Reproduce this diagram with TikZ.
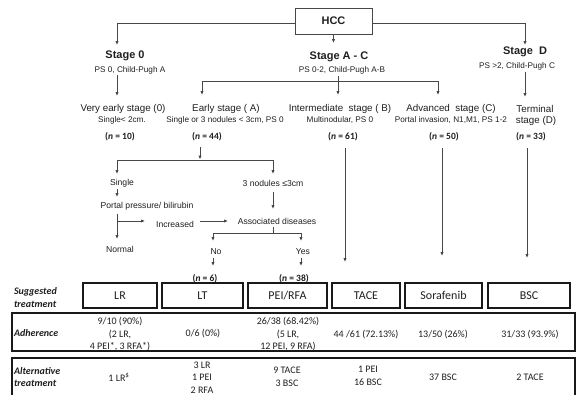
\documentclass[tikz,border=0pt]{standalone}
\usepackage{fontspec}
\setmainfont{Liberation Sans}
\newfontfamily\tabfont{Carlito}
\usetikzlibrary{arrows.meta}
\begin{document}
\begin{tikzpicture}[x=1pt,y=-1pt,
  every node/.style={inner sep=0pt, outer sep=0pt, text=black!88},
  conn/.style={draw=black!72, line width=0.8pt},
  arr/.style={conn, -{Latex[length=4pt,width=3.4pt]}},
  stagehd/.style={font=\fontsize{11}{12}\selectfont\bfseries},
  sub/.style={font=\fontsize{8.2}{9}\selectfont},
  lvl/.style={font=\fontsize{9.8}{11}\selectfont},
  flow/.style={font=\fontsize{8.6}{10}\selectfont},
  ncount/.style={font=\tabfont\fontsize{9.5}{10}\selectfont\bfseries},
  tbox/.style={draw=black!90, line width=1.1pt},
  thead/.style={tbox, font=\tabfont\fontsize{12}{14}\selectfont, minimum height=25pt},
  tcell/.style={font=\tabfont\fontsize{10}{12.5}\selectfont, align=center},
  tlabel/.style={font=\tabfont\fontsize{10}{12.5}\selectfont\bfseries\itshape, align=left, anchor=west},
]
\useasboundingbox (0,0) rectangle (586,394);
\clip (0,0) rectangle (586,394);

% ---------- top ----------
\node[draw=black!72, line width=0.8pt, minimum width=77pt, minimum height=26pt,
      font=\fontsize{11}{12}\selectfont\bfseries] (hcc) at (333.5,21) {HCC};
\coordinate (s0in) at (117,45);
\coordinate (sDin) at (525,45);
\coordinate (sACin) at (333.5,43);
\draw[arr] ([yshift=-2pt]hcc.west) -| (s0in);
\draw[arr] ([yshift=-2pt]hcc.east) -| (sDin);
\draw[arr] (hcc.south) -- (sACin);

\node[stagehd] (stage0) at (125,56) {Stage 0};
\node[sub] (stage0sub) at (130,70) {PS 0, Child-Pugh A};
\node[stagehd] (stageAC) at (339,57) {Stage A - C};
\node[sub] (stageACsub) at (342,70) {PS 0-2, Child-Pugh A-B};
\node[stagehd] (stageD) at (525,52) {Stage\ \ D};
\node[sub] (stageDsub) at (517,66) {PS >2, Child-Pugh C};

% stage arrows
\coordinate (s0a) at (117,75);  \coordinate (s0b) at (117,96);
\draw[arr] (s0a) -- (s0b);
\coordinate (acA) at (338,76);  \coordinate (acJ) at (338,81);
\coordinate (acL) at (202,81);  \coordinate (acR) at (438,81);
\coordinate (acLb) at (202,95); \coordinate (acMb) at (338,95); \coordinate (acRb) at (438,95);
\draw[conn] (acA) -- (acJ);
\draw[conn] (acL) -- (acR);
\draw[arr] (acL) -- (acLb);
\draw[arr] (acJ) -- (acMb);
\draw[arr] (acR) -- (acRb);
\coordinate (sDa) at (525,72);  \coordinate (sDb) at (525,97);
\draw[arr] (sDa) -- (sDb);

% level texts
\node[lvl] (vearly) at (123,109) {Very early stage (0)};
\node[sub] (vearlysub) at (122,120) {Single< 2cm.};
\node[lvl] (early) at (226,109) {Early stage ( A)};
\node[sub] (earlysub) at (225,120) {Single or 3 nodules < 3cm, PS 0};
\node[lvl] (inter) at (340,109) {Intermediate\ \ stage ( B)};
\node[sub] (intersub) at (340,120) {Multinodular, PS 0};
\node[lvl] (adv) at (451,109) {Advanced\ \ stage (C)};
\node[sub] (advsub) at (451,120) {Portal invasion, N1,M1, PS 1-2};
\node[lvl] (term) at (535,109) {Terminal};
\node[lvl] (term2) at (536,121) {stage (D)};

% counts
\node[ncount] (n10) at (120,137) {(\textit{n} = 10)};
\node[ncount] (n44) at (207,137) {(\textit{n} = 44)};
\node[ncount] (n61) at (343,137) {(\textit{n} = 61)};
\node[ncount] (n50) at (444,137) {(\textit{n} = 50)};
\node[ncount] (n33) at (531,137) {(\textit{n} = 33)};

% early stage branch
\coordinate (eA) at (200,147); \coordinate (eB) at (200,159.5);
\draw[arr] (eA) -- (eB);
\coordinate (eL) at (117,160); \coordinate (eR) at (273,160);
\coordinate (eLb) at (117,174); \coordinate (eRb) at (273,174);
\draw[conn] (eL) -- (eR);
\draw[arr] (eL) -- (eLb);
\draw[arr] (eR) -- (eRb);

\node[flow] (single) at (122,183) {Single};
\coordinate (sgA) at (117,189); \coordinate (sgB) at (117,197);
\draw[arr] (sgA) -- (sgB);
\node[flow] (portal) at (147,206) {Portal pressure/ bilirubin};
\coordinate (ppA) at (117,214); \coordinate (ppB) at (117,239);
\coordinate (ppJ) at (117,221); \coordinate (ppR) at (145,221);
\draw[arr] (ppA) -- (ppB);
\draw[arr] (ppJ) -- (ppR);
\node[flow] (incr) at (175,224) {Increased};
\coordinate (inA) at (200,221); \coordinate (inB) at (228,221);
\draw[arr] (inA) -- (inB);
\node[flow] (normal) at (120,249) {Normal};

\node[flow] (three) at (273,183) {3 nodules ≤3cm};
\coordinate (thA) at (273,192); \coordinate (thB) at (273,209);
\draw[arr] (thA) -- (thB);
\node[flow] (assoc) at (277,221) {Associated diseases};
\coordinate (asA) at (273,227); \coordinate (asJ) at (273,233);
\coordinate (asL) at (213,233); \coordinate (asR) at (301,233);
\coordinate (asLb) at (213,241); \coordinate (asRb) at (301,241);
\draw[conn] (asA) -- (asJ);
\draw[conn] (asL) -- (asR);
\draw[arr] (asL) -- (asLb);
\draw[arr] (asR) -- (asRb);
\node[flow] (no) at (216,252) {No};
\node[flow] (yes) at (303,252) {Yes};
\coordinate (noA) at (213,258); \coordinate (noB) at (213,266);
\coordinate (yeA) at (301,258); \coordinate (yeB) at (301,266);
\draw[arr] (noA) -- (noB);
\draw[arr] (yeA) -- (yeB);
\node[ncount] (n6) at (205,279) {(\textit{n} = 6)};
\node[ncount] (n38) at (294,279) {(\textit{n} = 38)};

% long arrows
\coordinate (tcA) at (345,148); \coordinate (tcB) at (345,262);
\coordinate (sfA) at (442,148); \coordinate (sfB) at (442,256);
\coordinate (bsA) at (527,148); \coordinate (bsB) at (527,258);
\draw[arr] (tcA) -- (tcB);
\draw[arr] (sfA) -- (sfB);
\draw[arr] (bsA) -- (bsB);

% ---------- table ----------
\node[tlabel] (lsug) at (14,297.5) {Suggested\\treatment};
\node[thead, minimum width=74pt] (hLR) at (120,295.5) {LR};
\node[thead, minimum width=81pt] (hLT) at (202.5,295.5) {LT};
\node[thead, minimum width=79pt] (hPEI) at (287.5,295.5) {PEI/RFA};
\node[thead, minimum width=68pt] (hTACE) at (366,295.5) {TACE};
\node[thead, minimum width=77pt] (hSor) at (443.5,295.5) {Sorafenib};
\node[thead, minimum width=82pt] (hBSC) at (529,295.5) {BSC};

\node[tbox, minimum width=563pt, minimum height=38pt] (adhbox) at (293.5,332) {};
\node[tlabel] (ladh) at (14,333.5) {Adherence};
\node[tcell] (adh1) at (120,334.5) {9/10 (90\%)\\(2 LR,\\4 PEI*, 3 RFA*)};
\node[tcell] (adh2) at (203,334) {0/6 (0\%)};
\node[tcell] (adh3) at (288,334.5) {26/38 (68.42\%)\\(5 LR,\\12 PEI, 9 RFA)};
\node[tcell] (adh4) at (366,334.5) {44 /61 (72.13\%)};
\node[tcell] (adh5) at (443,334.5) {13/50 (26\%)};
\node[tcell] (adh6) at (530,334.5) {31/33 (93.9\%)};

\node[tbox, minimum width=563pt, minimum height=46pt] (altbox) at (293.5,381) {};
\node[tlabel] (lalt) at (14,377) {Alternative\\treatment};
\node[tcell] (alt1) at (119,377) {1 LR\textsuperscript{\$}};
\node[tcell] (alt2) at (202,377.5) {3 LR\\1 PEI\\2 RFA};
\node[tcell] (alt3) at (287,377) {9 TACE\\3 BSC};
\node[tcell] (alt4) at (368,376) {1 PEI\\16 BSC};
\node[tcell] (alt5) at (443,377) {37 BSC};
\node[tcell] (alt6) at (530,377) {2 TACE};
\end{tikzpicture}
\end{document}
